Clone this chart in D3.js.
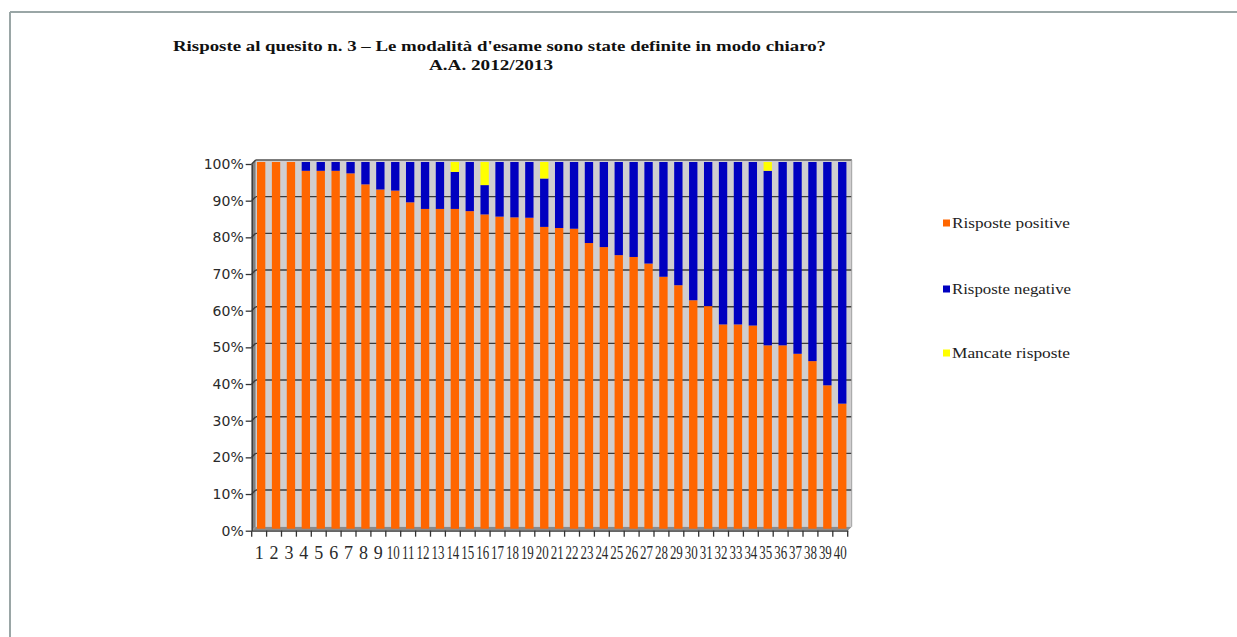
<!DOCTYPE html>
<html>
<head>
<meta charset="utf-8">
<script src="https://cdn.jsdelivr.net/npm/d3@7/dist/d3.min.js"></script>
<style>
  html, body { margin: 0; padding: 0; background: #ffffff; }
  svg { display: block; }
</style>
</head>
<body>
<svg id="chart" width="1237" height="637"></svg>
<script>
const categories = ["1","2","3","4","5","6","7","8","9","10","11","12","13","14","15","16","17","18","19","20",
  "21","22","23","24","25","26","27","28","29","30","31","32","33","34","35","36","37","38","39","40"];
const positive = [100,100,100,97.6,97.6,97.6,96.9,93.9,92.5,92.2,89.0,87.2,87.2,87.2,86.6,85.7,85.1,84.9,84.8,82.3,
  82.0,81.8,77.9,76.8,74.6,74.1,72.3,68.7,66.4,62.3,60.7,55.7,55.7,55.4,50.0,50.0,47.7,45.7,39.1,34.1];
const negative = [0,0,0,2.4,2.4,2.4,3.1,6.1,7.5,7.8,11.0,12.8,12.8,10.1,13.4,8.0,14.9,15.1,15.2,13.2,
  18.0,18.2,22.1,23.2,25.4,25.9,27.7,31.3,33.6,37.7,39.3,44.3,44.3,44.6,47.6,50.0,52.3,54.3,60.9,65.9];
const missing = [0,0,0,0,0,0,0,0,0,0,0,0,0,2.7,0,6.3,0,0,0,4.5,
  0,0,0,0,0,0,0,0,0,0,0,0,0,0,2.4,0,0,0,0,0];
const seriesNames = ["Risposte positive","Risposte negative","Mancate risposte"];
const seriesKeys = ["pos","neg","mis"];
const seriesColors = ["#ff6600","#0000c0","#ffff00"];
const yTicks = [0,10,20,30,40,50,60,70,80,90,100];
const titleLine1 = "Risposte al quesito n. 3 \u2013 Le modalit\u00e0 d'esame sono state definite in modo chiaro?";
const titleLine2 = "A.A. 2012/2013";

const svg = d3.select("#chart");
const serif = "'Liberation Serif', 'DejaVu Serif', serif";
const sans = "'DejaVu Sans', Verdana, sans-serif";

// outer frame
svg.append("line").attr("x1", 10).attr("y1", 12).attr("x2", 1237).attr("y2", 12)
  .attr("stroke", "#9aa6a6").attr("stroke-width", 2);
svg.append("line").attr("x1", 10).attr("y1", 12).attr("x2", 10).attr("y2", 637)
  .attr("stroke", "#9aa6a6").attr("stroke-width", 2);

// title
svg.append("text").attr("x", 499.5).attr("y", 51).attr("text-anchor", "middle")
  .attr("font-family", serif).attr("font-weight", "bold").attr("font-size", 15.5)
  .attr("textLength", 653).attr("lengthAdjust", "spacingAndGlyphs")
  .attr("fill", "#111").text(titleLine1);
svg.append("text").attr("x", 491).attr("y", 70).attr("text-anchor", "middle")
  .attr("font-family", serif).attr("font-weight", "bold").attr("font-size", 15.5)
  .attr("textLength", 124).attr("lengthAdjust", "spacingAndGlyphs")
  .attr("fill", "#111").text(titleLine2);

// scales
const x0 = 251.7, x1 = 847.7, yBottom = 530.7, yTop = 164;
const depth = 4;
const x = d3.scaleBand().domain(categories).range([x0, x1]).paddingInner(0.44).paddingOuter(0.22);
const y = d3.scaleLinear().domain([0, 100]).range([yBottom, yTop]);

// back wall
const wall = svg.append("g").attr("transform", `translate(${depth},${-depth})`);
wall.append("rect").attr("x", x0).attr("y", yTop).attr("width", x1 - x0).attr("height", yBottom - yTop)
  .attr("fill", "#d0cecf");
// left side wall
svg.append("polygon")
  .attr("points", `${x0},${yTop} ${x0 + depth},${yTop - depth} ${x0 + depth},${yBottom - depth} ${x0},${yBottom}`)
  .attr("fill", "#808080");
// floor
svg.append("polygon")
  .attr("points", `${x0},${yBottom} ${x0 + depth},${yBottom - depth} ${x1 + depth},${yBottom - depth} ${x1},${yBottom}`)
  .attr("fill", "#8a8a8a");

// gridlines on back wall and left wall
yTicks.forEach(t => {
  if (t === 0) return;
  wall.append("line").attr("x1", x0).attr("x2", x1).attr("y1", y(t)).attr("y2", y(t))
    .attr("stroke", "#3c3c3c").attr("stroke-width", 1.4);
  svg.append("line").attr("x1", x0).attr("y1", y(t)).attr("x2", x0 + depth).attr("y2", y(t) - depth)
    .attr("stroke", "#3c3c3c").attr("stroke-width", 1.4);
});
// back wall edges
wall.append("line").attr("x1", x0).attr("x2", x1).attr("y1", yTop).attr("y2", yTop)
  .attr("stroke", "#8c8c8c").attr("stroke-width", 1);
wall.append("line").attr("x1", x1).attr("x2", x1).attr("y1", yTop).attr("y2", yBottom)
  .attr("stroke", "#a0a0a0").attr("stroke-width", 1);

// stacked bars
const rows = categories.map((c, i) => ({ cat: c, pos: positive[i], neg: negative[i], mis: missing[i] }));
const stacked = d3.stack().keys(seriesKeys)(rows);
const bars = svg.append("g").attr("transform", "translate(2,-2)");
stacked.forEach((layer, li) => {
  bars.append("g").attr("fill", seriesColors[li])
    .selectAll("rect").data(layer).join("rect")
    .attr("x", d => x(d.data.cat))
    .attr("width", x.bandwidth())
    .attr("y", d => y(d[1]))
    .attr("height", d => Math.max(0, y(d[0]) - y(d[1])));
});

// y axis
const yAxis = d3.axisLeft(y).tickValues(yTicks).tickFormat(d => d + "%").tickSize(6).tickSizeOuter(0);
const gy = svg.append("g").attr("transform", `translate(${x0},0)`).call(yAxis);
gy.select(".domain").attr("stroke", "#333").attr("stroke-width", 1.3);
gy.selectAll(".tick line").attr("stroke", "#333").attr("stroke-width", 1.3);
gy.selectAll(".tick text").attr("font-family", sans).attr("font-size", 14).attr("fill", "#2a2a2a")
  .attr("x", -8);

// x axis
const xAxis = d3.axisBottom(x).tickSize(0).tickSizeOuter(0);
const gx = svg.append("g").attr("transform", `translate(0,${yBottom})`).call(xAxis);
gx.select(".domain").attr("stroke", "#333").attr("stroke-width", 1.3);
gx.selectAll(".tick text").attr("font-family", serif).attr("font-size", 18).attr("fill", "#2a2a2a").attr("dy", 0)
  .attr("y", 28)
  .each(function(d) {
    if (d.length > 1) d3.select(this).attr("transform", "scale(0.72,1)");
  });
// tick marks at band boundaries
const boundaries = categories.map(c => x(c) - x.step() * x.paddingInner() / 2);
boundaries.push(x1);
gx.selectAll(".bound").data(boundaries).join("line").attr("class", "bound")
  .attr("x1", d => d).attr("x2", d => d).attr("y1", 0).attr("y2", 6)
  .attr("stroke", "#333").attr("stroke-width", 1.3);

// legend
const legendY = [223, 289, 353];
const legendLen = [118, 119, 118];
const lg = svg.append("g");
seriesNames.forEach((name, i) => {
  lg.append("rect").attr("x", 943).attr("y", legendY[i] - 3.5).attr("width", 7).attr("height", 7)
    .attr("fill", seriesColors[i]);
  lg.append("text").attr("x", 952).attr("y", legendY[i] + 4.5)
    .attr("font-family", serif).attr("font-size", 14).attr("fill", "#222")
    .attr("textLength", legendLen[i]).attr("lengthAdjust", "spacingAndGlyphs")
    .text(name);
});
</script>
</body>
</html>
